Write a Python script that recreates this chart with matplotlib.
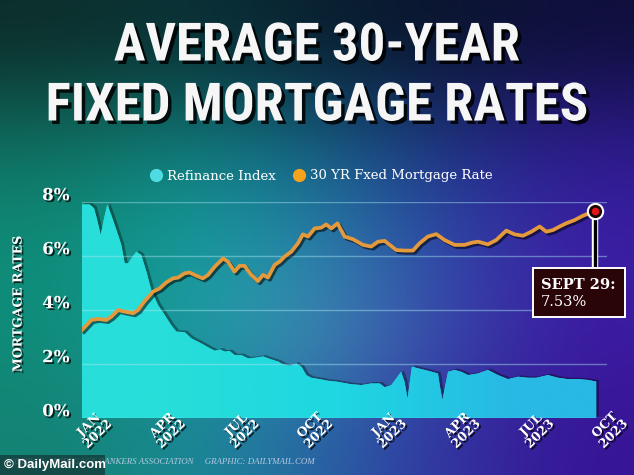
import os
import numpy as np
import matplotlib
matplotlib.use('Agg')
import matplotlib.pyplot as plt
import matplotlib.patheffects as pe
from matplotlib import font_manager as fm
from matplotlib.patches import Rectangle
from matplotlib.lines import Line2D
from matplotlib.transforms import ScaledTranslation

# x = months since Jan 2022 (%)
rate_x = [0.00, 0.38, 0.65, 0.99, 1.19, 1.47, 1.74, 2.08, 2.28, 2.55, 2.89, 3.16, 3.43, 3.70, 3.91,
          4.18, 4.38, 4.65, 4.92, 5.13, 5.40, 5.74, 5.94, 6.21, 6.42, 6.62, 6.89, 7.16, 7.37, 7.57,
          7.84, 8.04, 8.25, 8.52, 8.79, 8.99, 9.20, 9.47, 9.74, 9.94, 10.15, 10.40, 10.69, 11.03, 11.44,
          11.77, 12.05, 12.32, 12.79, 13.13, 13.47, 13.74, 14.08, 14.42, 14.76, 15.17, 15.57, 15.90, 16.12, 16.52,
          16.86, 17.27, 17.61, 17.95, 18.29, 18.63, 18.90, 19.17, 19.44, 19.71, 20.05, 20.39, 20.88]
rate_y = [3.26, 3.63, 3.67, 3.63, 3.75, 4.00, 3.94, 3.88, 4.00, 4.33, 4.68, 4.80, 5.02, 5.17, 5.20,
          5.36, 5.39, 5.27, 5.17, 5.30, 5.60, 5.91, 5.79, 5.42, 5.64, 5.63, 5.30, 5.07, 5.30, 5.20,
          5.67, 5.79, 5.98, 6.16, 6.47, 6.80, 6.72, 7.02, 7.05, 7.17, 7.02, 7.21, 6.72, 6.62, 6.41,
          6.35, 6.53, 6.56, 6.22, 6.20, 6.20, 6.47, 6.72, 6.81, 6.59, 6.41, 6.41, 6.50, 6.53, 6.43,
          6.59, 6.94, 6.80, 6.75, 6.90, 7.09, 6.90, 6.96, 7.09, 7.21, 7.33, 7.49, 7.67]

refi_x = [0.00, 0.31, 0.49, 0.62, 0.76, 0.90, 1.03, 1.19, 1.47, 1.60, 1.74, 1.87, 2.01, 2.21, 2.41,
          2.62, 2.82, 3.09, 3.37, 3.63, 3.84, 4.18, 4.45, 4.80, 5.21, 5.41, 5.62, 5.81, 6.01, 6.21,
          6.48, 6.76, 7.03, 7.37, 7.64, 7.98, 8.18, 8.45, 8.72, 8.93, 9.13, 9.33, 9.67, 10.01, 10.35,
          10.96, 11.37, 11.77, 12.12, 12.32, 12.59, 12.99, 13.13, 13.25, 13.43, 13.68, 14.08, 14.49, 14.56, 14.67,
          14.90, 15.17, 15.44, 15.71, 16.12, 16.52, 16.93, 17.34, 17.75, 18.15, 18.49, 18.97, 19.37, 19.78, 20.19,
          20.59, 20.93]
refi_y = [7.91, 7.91, 7.77, 7.33, 6.78, 7.40, 7.91, 7.52, 6.78, 6.41, 5.73, 5.73, 5.91, 6.16, 6.04,
          5.42, 4.74, 4.19, 3.81, 3.44, 3.20, 3.18, 2.95, 2.79, 2.58, 2.49, 2.54, 2.46, 2.48, 2.33,
          2.33, 2.21, 2.23, 2.28, 2.19, 2.09, 1.99, 1.94, 2.02, 1.90, 1.59, 1.49, 1.44, 1.38, 1.35,
          1.25, 1.22, 1.28, 1.28, 1.14, 1.22, 1.71, 1.34, 0.72, 1.90, 1.84, 1.75, 1.65, 1.22, 0.67,
          1.71, 1.78, 1.71, 1.59, 1.65, 1.78, 1.59, 1.44, 1.53, 1.49, 1.49, 1.59, 1.49, 1.44, 1.44,
          1.41, 1.35]

x_ticks = [0, 3, 6, 9, 12, 15, 18, 21]
x_labels = ['JAN\n2022', 'APR\n2022', 'JUL\n2022', 'OCT\n2022',
            'JAN\n2023', 'APR\n2023', 'JUL\n2023', 'OCT\n2023']
y_ticks = [0, 2, 4, 6, 8]
y_labels = ['0%', '2%', '4%', '6%', '8%']

SERIF = 'DejaVu Serif'
shadow_txt = [pe.withSimplePatchShadow(offset=(1.3, -1.3), shadow_rgbFace='black', alpha=0.75)]


def narrow_font():
    # headline face is a heavy condensed slab, take the closest narrow face installed
    wanted = ['notoserif-extracondensedblack', 'notoserif-condensedblack', 'notoserif-extracondensedbold',
              'notosans-extracondensedblack', 'notosans-condensedblack', 'robotocondensed-bold',
              'liberationsansnarrow-bold', 'dejavuserifcondensed-bold', 'dejavusanscondensed-bold']
    files = {os.path.basename(f.fname).lower().replace('_', '').split('.')[0]: f.fname
             for f in fm.fontManager.ttflist}
    for w in wanted:
        if w in files:
            return fm.FontProperties(fname=files[w])
    return fm.FontProperties(family='DejaVu Sans', weight='bold')


fig = plt.figure(figsize=(6.34, 4.75), dpi=100)

# background gradient (teal on the left, purple on the right, dark on top)
bg_cols = np.array([
    [(12, 45, 42), (10, 50, 55), (8, 30, 45), (10, 20, 45), (15, 15, 60)],
    [(15, 110, 95), (15, 125, 120), (20, 95, 130), (30, 50, 130), (45, 25, 140)],
    [(15, 140, 120), (20, 160, 160), (40, 130, 170), (45, 70, 165), (60, 30, 165)],
    [(15, 140, 120), (25, 160, 165), (70, 140, 180), (55, 70, 170), (60, 25, 160)],
    [(20, 130, 115), (25, 140, 150), (40, 100, 165), (50, 50, 160), (55, 20, 150)],
]) / 255.0
bg = fig.add_axes([0, 0, 1, 1], zorder=0)
bg.imshow(bg_cols, extent=[0, 1, 0, 1], aspect='auto', interpolation='bicubic')
bg.set_xlim(0, 1)
bg.set_ylim(0, 1)
bg.axis('off')

ax = fig.add_axes([82 / 634, 57 / 475, 525 / 634, 216 / 475], zorder=1)
ax.patch.set_alpha(0)

# refinance index area with gradient fill and drop shadow
poly = ax.fill_between(refi_x, refi_y, 0, facecolor='#22d0d8', lw=0, zorder=2,
                       path_effects=[pe.SimplePatchShadow(offset=(2, 1), shadow_rgbFace='black', alpha=0.35),
                                     pe.Normal()])
fill_cols = np.array([[(40, 222, 218), (30, 215, 225), (40, 185, 228)]]) / 255.0
im = ax.imshow(fill_cols, extent=[0, 21, 0, 8], aspect='auto', interpolation='bilinear', zorder=2.2)
im.set_clip_path(poly.get_paths()[0], transform=ax.transData)

# 30 yr fixed rate line
ax.plot(rate_x, rate_y, color='#e49a3c', lw=2.7, zorder=5, solid_joinstyle='round',
        path_effects=[pe.SimpleLineShadow(offset=(1.5, -1.5), shadow_color='black', alpha=0.55), pe.Normal()])

ax.set_xlim(0, 21.37)
ax.set_ylim(0, 8)
for s in ax.spines.values():
    s.set_visible(False)

ax.set_yticks(y_ticks, y_labels)
ax.grid(axis='y', color='#a8e6f2', alpha=0.45, lw=1)
ax.set_axisbelow(False)
ax.tick_params(axis='y', length=0, pad=9)
for lab in ax.get_yticklabels():
    lab.set_fontfamily(SERIF)
    lab.set_fontweight('bold')
    lab.set_fontsize(12)
    lab.set_color('white')
    lab.set_path_effects(shadow_txt)
    lab.set_transform(lab.get_transform() + ScaledTranslation(0, 6 / 72, fig.dpi_scale_trans))

ax.set_xticks(x_ticks, x_labels)
ax.tick_params(axis='x', length=0, pad=0)
for lab in ax.get_xticklabels():
    lab.set_rotation(45)
    lab.set_ha('center')
    lab.set_va('top')
    lab.set_fontfamily(SERIF)
    lab.set_fontweight('bold')
    lab.set_fontsize(9)
    lab.set_linespacing(0.95)
    lab.set_color('white')
    lab.set_path_effects(shadow_txt)
    lab.set_transform(lab.get_transform() + ScaledTranslation(8 / 72, 7 / 72, fig.dpi_scale_trans))

# last value callout
xl, yl = rate_x[-1], rate_y[-1]
ax.plot([xl, xl], [yl, 5.56], color='black', lw=2.4, zorder=6, clip_on=False,
        path_effects=[pe.Stroke(linewidth=4.6, foreground='white'), pe.Normal()])
ax.plot([xl], [yl], 'o', ms=11, mfc='#1a0505', mec='white', mew=1.5, zorder=7, clip_on=False)
ax.plot([xl], [yl], 'o', ms=4.5, color='#e01515', zorder=8, clip_on=False)
ax.add_patch(Rectangle((18.36, 3.74), 3.74, 1.82, facecolor='#2a0508', edgecolor='white',
                       lw=1.4, zorder=6, clip_on=False))
ax.text(18.68, 4.93, 'SEPT 29:', color='white', family=SERIF, weight='bold', size=10.5,
        va='center', ha='left', zorder=9, clip_on=False)
ax.text(18.68, 4.30, '7.53%', color='white', family=SERIF, size=10.5,
        va='center', ha='left', zorder=9, clip_on=False)

# title, sized so the long line spans about 543 px like the original
title_fp = narrow_font()
title_fx = [pe.withSimplePatchShadow(offset=(2.5, -2.5), shadow_rgbFace='black', alpha=0.85)]
t1 = fig.text(0.5, 1 - 46 / 475, 'AVERAGE 30-YEAR', ha='center', va='center', color='#f6f6f6',
              fontproperties=title_fp, size=36, path_effects=title_fx)
t2 = fig.text(0.5, 1 - 106 / 475, 'FIXED MORTGAGE RATES', ha='center', va='center', color='#f6f6f6',
              fontproperties=title_fp, size=36, path_effects=title_fx)
rend = fig.canvas.get_renderer()
w2 = t2.get_window_extent(rend).width
size = min(40, 36 * 543 / w2)
t1.set_fontsize(size)
t2.set_fontsize(size)

# legend
handles = [Line2D([], [], ls='none', marker='o', ms=9.5, mfc='#4fdbe2', mec='none'),
           Line2D([], [], ls='none', marker='o', ms=9.5, mfc='#f5a31c', mec='none')]
fig.legend(handles, ['Refinance Index', '30 YR Fxed Mortgage Rate'], loc='center',
           bbox_to_anchor=(0.505, 1 - 176 / 475), ncol=2, frameon=False, labelcolor='white',
           prop={'family': SERIF, 'size': 9.5}, handletextpad=0.2, columnspacing=1.2,
           handlelength=1.2)

fig.text(18 / 634, 1 - 304 / 475, 'MORTGAGE RATES', rotation=90, ha='center', va='center',
         color='white', family=SERIF, weight='bold', size=9, path_effects=shadow_txt)

fig.text(10 / 634, 1 - 462 / 475, 'SOURCE: MORTGAGE BANKERS ASSOCIATION     GRAPHIC: DAILYMAIL.COM',
         ha='left', va='center', color='#b4c8e2', family=['Liberation Serif', 'DejaVu Serif'],
         style='italic', size=6.4)

# watermark
fig.patches.append(Rectangle((0, 0), 105 / 634, 20 / 475, transform=fig.transFigure,
                             facecolor='#143838', alpha=0.75, lw=0, zorder=10))
fig.text(4 / 634, 10 / 475, '\u00a9 DailyMail.com', ha='left', va='center', color='white',
         family=['Liberation Sans', 'DejaVu Sans'], weight='bold', size=9.5, zorder=11)

fig.savefig('out.png', dpi=100)
